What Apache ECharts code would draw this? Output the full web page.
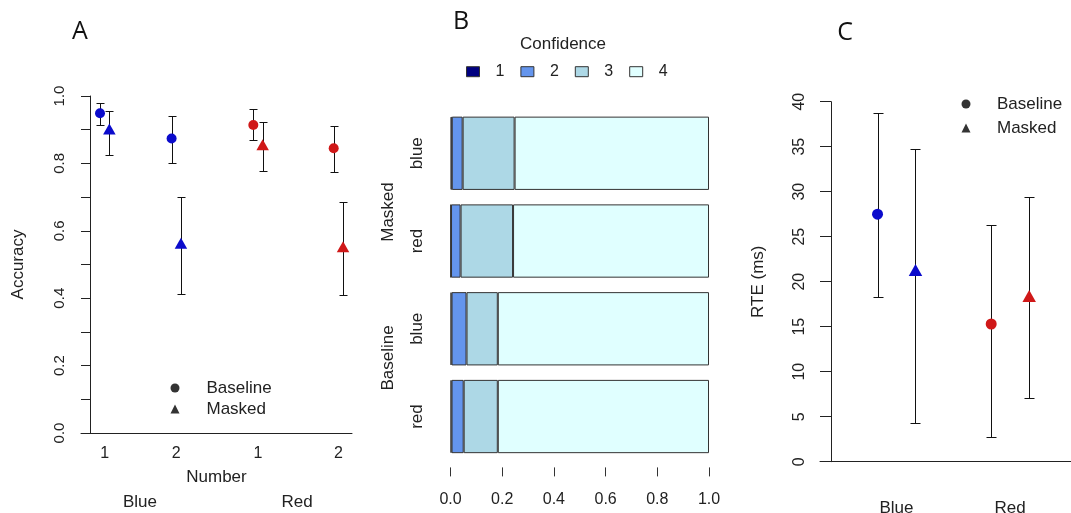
<!DOCTYPE html>
<html>
<head>
<meta charset="utf-8">
<script src="https://cdn.jsdelivr.net/npm/echarts@6/dist/echarts.min.js"></script>
<style>
  html, body { margin: 0; padding: 0; background: #fff; }
  #chart { width: 1071px; height: 513px; }
</style>
</head>
<body>
<div id="chart"></div>
<script>
// panel A: accuracy by colour / number
const xPosA = [1, 1.919, 2.968, 4.0];
const xTickA = ['1', '2', '1', '2'];
const hueA = ['blue', 'blue', 'red', 'red'];
const accBase = [0.949, 0.874, 0.914, 0.845];
const accBaseLo = [0.914, 0.802, 0.869, 0.774];
const accBaseHi = [0.978, 0.941, 0.960, 0.911];
const accMask = [0.902, 0.563, 0.855, 0.553];
const accMaskLo = [0.825, 0.412, 0.777, 0.409];
const accMaskHi = [0.956, 0.701, 0.924, 0.685];

// panel B: confidence proportions (rows top to bottom)
const confRows = ['Masked blue', 'Masked red', 'Baseline blue', 'Baseline red'];
const confLevels = ['1', '2', '3', '4'];
const conf1 = [0.005, 0.002, 0.004, 0.004];
const conf2 = [0.042, 0.037, 0.058, 0.047];
const conf3 = [0.201, 0.203, 0.121, 0.132];
const conf4 = [0.752, 0.758, 0.817, 0.817];

// panel C: RTE
const xPosC = [1, 2];
const xTickC = ['Blue', 'Red'];
const hueC = ['blue', 'red'];
const rteBase = [27.5, 15.3];
const rteBaseLo = [18.3, 2.7];
const rteBaseHi = [38.7, 26.3];
const rteMask = [21.3, 18.4];
const rteMaskLo = [4.3, 7.1];
const rteMaskHi = [34.7, 29.4];

const FONT = '"Liberation Sans", Arial, sans-serif';
const INK = '#222';
const hues = {blue: '#0b0bcc', red: '#d01818'};
const confColors = ['#000080', '#6495ed', '#add8e6', '#e0ffff'];
const dodgeA = 0.06;
const dodgeC = 0.167;

const chart = echarts.init(document.getElementById('chart'));

// vertical error bar with caps, snapped to the pixel grid
const errBar = (half) => (params, api) => {
  const x = api.value(0);
  const lo = api.coord([x, api.value(1)]);
  const hi = api.coord([x, api.value(2)]);
  const sx = Math.round(lo[0]) + 0.5;
  const y1 = Math.round(lo[1]) + 0.5;
  const y2 = Math.round(hi[1]) + 0.5;
  const st = {stroke: '#111', lineWidth: 1};
  return {
    type: 'group',
    children: [
      {type: 'line', shape: {x1: sx, y1: y1, x2: sx, y2: y2}, style: st},
      {type: 'line', shape: {x1: sx - half, y1: y1, x2: sx + half, y2: y1}, style: st},
      {type: 'line', shape: {x1: sx - half, y1: y2, x2: sx + half, y2: y2}, style: st}
    ]
  };
};

const pts = (xs, dodge, vals, hue) => xs.map((x, i) => ({
  value: [x + dodge, vals[i]],
  itemStyle: {color: hues[hue[i]], opacity: 1}
}));
const bars = (xs, dodge, lo, hi) => xs.map((x, i) => [x + dodge, lo[i], hi[i]]);

const tickLabel = {color: INK, fontFamily: FONT};
const blackLine = {lineStyle: {color: INK, width: 1}};

const option = {
  animation: false,
  textStyle: {fontFamily: FONT},
  grid: [
    {left: 81, top: 96, width: 271, height: 337, outerBoundsMode: 'none'},
    {left: 450.5, top: 109.4, width: 258.5, height: 351, outerBoundsMode: 'none'},
    {left: 820, top: 101.7, width: 251, height: 360, outerBoundsMode: 'none'}
  ],
  xAxis: [
    {
      gridIndex: 0, type: 'value', min: 0.696, max: 4.175,
      axisLine: blackLine, axisTick: {show: false}, splitLine: {show: false},
      axisLabel: {...tickLabel, fontSize: 16, margin: 13, customValues: xPosA,
        formatter: v => xTickA[xPosA.indexOf(v)]},
      name: 'Number', nameLocation: 'middle', nameGap: 36,
      nameTextStyle: {color: INK, fontSize: 17, fontFamily: FONT}
    },
    {
      gridIndex: 1, type: 'value', min: 0, max: 1, interval: 0.2, offset: 7,
      axisLine: {lineStyle: {color: '#333', width: 1}},
      axisTick: {show: true, length: 9, lineStyle: {color: '#333'}},
      splitLine: {show: false},
      axisLabel: {...tickLabel, fontSize: 16, margin: 24, formatter: v => v.toFixed(1),
        showMinLabel: true, showMaxLabel: true}
    },
    {
      gridIndex: 2, type: 'value', min: 0.327, max: 2.535,
      axisLine: blackLine, axisTick: {show: false}, splitLine: {show: false},
      axisLabel: {...tickLabel, fontSize: 17, margin: 38, customValues: xPosC,
        formatter: v => xTickC[xPosC.indexOf(v)]}
    }
  ],
  yAxis: [
    {
      gridIndex: 0, type: 'value', min: 0, max: 1, interval: 0.1, offset: -9.7,
      axisLine: {show: true, ...blackLine},
      axisTick: {show: true, length: 9.7, lineStyle: {color: INK}},
      splitLine: {show: false},
      axisLabel: {...tickLabel, fontSize: 15, rotate: 90, margin: 23,
        formatter: v => (Math.round(v * 10) % 2 === 0 ? v.toFixed(1) : '')},
      name: 'Accuracy', nameLocation: 'middle', nameGap: 64,
      nameTextStyle: {color: INK, fontSize: 17, fontFamily: FONT}
    },
    {
      gridIndex: 1, type: 'category', inverse: true, data: confRows,
      axisLine: {show: false}, axisTick: {show: false},
      axisLabel: {...tickLabel, fontSize: 17, rotate: 90, margin: 25,
        formatter: v => v.split(' ')[1]}
    },
    {
      gridIndex: 2, type: 'value', min: 0, max: 40, interval: 5, offset: -11,
      axisLine: {show: true, ...blackLine},
      axisTick: {show: true, length: 11, lineStyle: {color: INK}},
      splitLine: {show: false},
      axisLabel: {...tickLabel, fontSize: 16, rotate: 90, margin: 23},
      name: 'RTE (ms)', nameLocation: 'middle', nameGap: 64,
      nameTextStyle: {color: INK, fontSize: 17, fontFamily: FONT}
    }
  ],
  legend: [
    {
      left: 170.5, top: 379.5, orient: 'vertical', padding: 0, itemGap: 4,
      itemWidth: 9, itemHeight: 9,
      textStyle: {color: INK, fontSize: 17, fontFamily: FONT, padding: [0, 0, 0, 22]},
      data: [
        {name: 'Baseline', icon: 'circle', itemStyle: {color: '#000'}},
        {name: 'Masked', icon: 'triangle', itemStyle: {color: '#000'}}
      ]
    },
    {
      left: 466, top: 63.7, orient: 'horizontal', padding: 0, itemGap: 16,
      itemWidth: 13, itemHeight: 10, icon: 'rect',
      itemStyle: {borderColor: '#333', borderWidth: 1},
      textStyle: {color: INK, fontSize: 16, fontFamily: FONT, padding: [0, 0, 0, 11]},
      data: confLevels
    },
    {
      left: 961.5, top: 95.5, orient: 'vertical', padding: 0, itemGap: 7,
      itemWidth: 9, itemHeight: 9,
      textStyle: {color: INK, fontSize: 17, fontFamily: FONT, padding: [0, 0, 0, 21.5]},
      data: [
        {name: 'Baseline', icon: 'circle', itemStyle: {color: '#000'}},
        {name: 'Masked', icon: 'triangle', itemStyle: {color: '#000'}}
      ]
    }
  ],
  series: [
    // panel A
    {type: 'custom', xAxisIndex: 0, yAxisIndex: 0, z: 1, renderItem: errBar(4),
      data: bars(xPosA, -dodgeA, accBaseLo, accBaseHi).concat(bars(xPosA, dodgeA, accMaskLo, accMaskHi))},
    {name: 'Baseline', type: 'scatter', xAxisIndex: 0, yAxisIndex: 0, z: 3,
      symbol: 'circle', symbolSize: 10, data: pts(xPosA, -dodgeA, accBase, hueA)},
    {name: 'Masked', type: 'scatter', xAxisIndex: 0, yAxisIndex: 0, z: 3,
      symbol: 'triangle', symbolSize: [12.5, 11], data: pts(xPosA, dodgeA, accMask, hueA)},
    // panel B
    ...[conf1, conf2, conf3, conf4].map((vals, k) => ({
      name: confLevels[k], type: 'bar', stack: 'conf', xAxisIndex: 1, yAxisIndex: 1,
      barCategoryGap: '16.5%', data: vals,
      itemStyle: {color: confColors[k], borderColor: '#333', borderWidth: 1}
    })),
    // panel C
    {type: 'custom', xAxisIndex: 2, yAxisIndex: 2, z: 1, renderItem: errBar(5),
      data: bars(xPosC, -dodgeC, rteBaseLo, rteBaseHi).concat(bars(xPosC, dodgeC, rteMaskLo, rteMaskHi))},
    {name: 'Baseline', type: 'scatter', xAxisIndex: 2, yAxisIndex: 2, z: 3,
      symbol: 'circle', symbolSize: 11, data: pts(xPosC, -dodgeC, rteBase, hueC)},
    {name: 'Masked', type: 'scatter', xAxisIndex: 2, yAxisIndex: 2, z: 3,
      symbol: 'triangle', symbolSize: [13.5, 12], data: pts(xPosC, dodgeC, rteMask, hueC)}
  ],
  graphic: [
    {type: 'text', x: 80, y: 32, style: {text: 'A', fontSize: 25, fontFamily: '"Open Sans", sans-serif', fill: '#111', align: 'center', verticalAlign: 'middle'}},
    {type: 'text', x: 461, y: 22, style: {text: 'B', fontSize: 25, fontFamily: '"Open Sans", sans-serif', fill: '#111', align: 'center', verticalAlign: 'middle'}},
    {type: 'text', x: 845, y: 33, style: {text: 'C', fontSize: 25, fontFamily: '"Open Sans", sans-serif', fill: '#111', align: 'center', verticalAlign: 'middle'}},
    {type: 'text', x: 563, y: 44, style: {text: 'Confidence', fontSize: 17, fontFamily: FONT, fill: INK, align: 'center', verticalAlign: 'middle'}},
    {type: 'text', x: 388, y: 212, rotation: Math.PI / 2, style: {text: 'Masked', fontSize: 17, fontFamily: FONT, fill: INK, align: 'center', verticalAlign: 'middle'}},
    {type: 'text', x: 388, y: 358, rotation: Math.PI / 2, style: {text: 'Baseline', fontSize: 17, fontFamily: FONT, fill: INK, align: 'center', verticalAlign: 'middle'}},
    {type: 'text', x: 140, y: 502, style: {text: 'Blue', fontSize: 17, fontFamily: FONT, fill: INK, align: 'center', verticalAlign: 'middle'}},
    {type: 'text', x: 297, y: 502, style: {text: 'Red', fontSize: 17, fontFamily: FONT, fill: INK, align: 'center', verticalAlign: 'middle'}}
  ]
};

chart.setOption(option);
</script>
</body>
</html>
